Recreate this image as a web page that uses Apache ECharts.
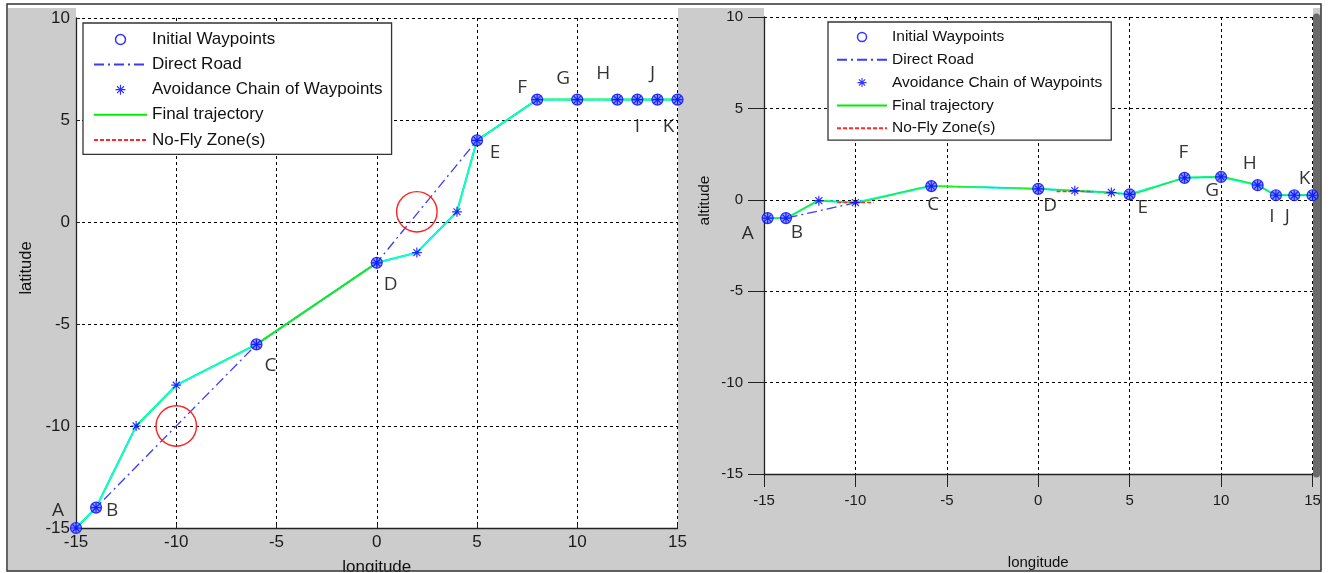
<!DOCTYPE html>
<html><head><meta charset="utf-8">
<script src="https://cdn.jsdelivr.net/npm/echarts@6/dist/echarts.min.js"></script>
<style>html,body{margin:0;padding:0;background:#fff}#c{width:1331px;height:573px}</style>
</head><body><div id="c"></div>
<script>
// ---------------- data ----------------
const waypointNames = ['A','B','C','D','E','F','G','H','I','J','K'];
const waypointLon = [-15,-14,-6,0,5,8,10,12,13,14,15];
const waypointLat = [-15,-14,-6,-2,4,6,6,6,6,6,6];
const waypointAltLon = [-14.8,-13.8,-5.85,0,5,8,10,12,13,14,15];
const waypointAlt = [-1,-1,0.75,0.6,0.3,1.2,1.25,0.8,0.25,0.25,0.25];
const avoidLon = [-12,-10,2,4];
const avoidLat = [-10,-8,-1.5,0.5];
const avoidAlt = [-0.05,-0.15,0.5,0.4];
const zoneLon = [-10,2];
const zoneLat = [-10,0.5];
const zoneAlt = [-0.15,0.45];
const zoneRadius = [1,1];
const lonTicks = [-15,-10,-5,0,5,10,15];
const latTicks = [-15,-10,-5,0,5,10];
const legendNames = ['Initial Waypoints','Direct Road','Avoidance Chain of Waypoints','Final trajectory','No-Fly Zone(s)'];

// ---------------- styles ----------------
const LEFT_LABEL_OFFSET = [[-18,-17],[16,3],[14,21],[14,22],[18,12],[-15,-12],[-14,-21],[-14,-26],[0,27],[-5,-26],[-9,27]];
const RIGHT_LABEL_OFFSET = [[-20,16],[11,15],[2,19],[12,17],[13,13],[-1,-25],[-9,14],[-8,-22],[-4,21],[-7,21],[-8,-17]];
const STAR = 'path://M-0.6,-5L0.6,-5L0.6,5L-0.6,5Z M-5,-0.6L5,-0.6L5,0.6L-5,0.6Z M-3.9,-3.05L-3.05,-3.9L3.9,3.05L3.05,3.9Z M3.05,-3.9L3.9,-3.05L-3.05,3.9L-3.9,3.05Z';
const FONT = 'Liberation Sans, Arial, sans-serif';
const LETTER_FONT = 'Open Sans, Noto Sans, sans-serif';

function pairs(xs, ys){ return xs.map((x,i)=>[x, ys[i]]); }
function chain(wx, wy, ax, ay){
  return pairs(wx, wy).concat(pairs(ax, ay)).sort((p,q)=>p[0]-q[0]);
}
const leftWaypoints = pairs(waypointLon, waypointLat);
const rightWaypoints = pairs(waypointAltLon, waypointAlt);
const leftChain = chain(waypointLon, waypointLat, avoidLon, avoidLat);
const rightChain = chain(waypointAltLon, waypointAlt, avoidLon, avoidAlt);
const leftCD = leftChain.filter(p => p[0] >= waypointLon[2] && p[0] <= waypointLon[3]);
const zoneSegments = [];
zoneLon.forEach((x,i)=>{ zoneSegments.push([x-zoneRadius[i], zoneAlt[i]], [x+zoneRadius[i], zoneAlt[i]], ['-','-']); });

function labelled(points, offsets){
  return points.map((p,i)=>({value:p, name:waypointNames[i], label:{offset:offsets[i]}}));
}
function legendData(){
  return legendNames.map(n => {
    if (n === 'Initial Waypoints') return {name:n, icon:'circle', itemStyle:{color:'#ffffff', borderColor:'#0000ff', borderWidth:1.5}};
    if (n === 'Avoidance Chain of Waypoints') return n;
    return {name:n, itemStyle:{opacity:0}};
  });
}

const gridLine = {show:true, lineStyle:{color:'#000', type:[3,3], width:1}};
function xAxis(gi, o){
  return Object.assign({type:'value', gridIndex:gi, min:lonTicks[0], max:lonTicks[lonTicks.length-1], interval:5,
    nameLocation:'middle', name:'longitude',
    axisLine:{show:true, onZero:false, lineStyle:{color:'#222', width:1.3}},
    splitLine:gridLine}, o);
}
function yAxis(gi, o){
  return Object.assign({type:'value', gridIndex:gi, min:latTicks[0], max:latTicks[latTicks.length-1], interval:5,
    nameLocation:'middle',
    axisLine:{show:true, onZero:false, lineStyle:{color:'#222', width:1.3}},
    splitLine:gridLine}, o);
}

const option = {
  animation:false,
  backgroundColor:'#ffffff',
  textStyle:{fontFamily:FONT},
  graphic:[
    {type:'rect', z:-100, shape:{x:8,y:8,width:1313,height:563}, style:{fill:'#cccccc'}},
    {type:'rect', z:-99, shape:{x:76,y:8,width:602,height:520}, style:{fill:'#ffffff'}},
    {type:'rect', z:-99, shape:{x:764,y:8,width:549,height:466}, style:{fill:'#ffffff'}},
    {type:'rect', z:100, shape:{x:0,y:572,width:1331,height:2}, style:{fill:'#ffffff'}},
    {type:'rect', z:101, shape:{x:7,y:4,width:1314,height:567}, style:{fill:'none', stroke:'#333', lineWidth:1.5}}
  ],
  grid:[
    {left:76, top:18, width:601.5, height:510, outerBoundsMode:'none', containLabel:false},
    {left:764, top:17, width:548.5, height:457, outerBoundsMode:'none', containLabel:false}
  ],
  legend:[
    {data:legendData(),
     orient:'vertical', left:83, top:23, padding:[8,9,6,10], itemWidth:53, itemHeight:10, itemGap:8.1,
     backgroundColor:'#ffffff', borderColor:'#333', borderWidth:1.3, borderRadius:0, selectedMode:false,
     textStyle:{fontSize:17, color:'#111', fontFamily:FONT}},
    {data:legendData(),
     orient:'vertical', left:828, top:22, padding:[7,9,4,8], itemWidth:50, itemHeight:9, itemGap:6.8,
     backgroundColor:'#ffffff', borderColor:'#333', borderWidth:1.3, borderRadius:0, selectedMode:false,
     textStyle:{fontSize:15.5, color:'#111', fontFamily:FONT}}
  ],
  xAxis:[
    xAxis(0, {nameGap:31, nameTextStyle:{fontSize:17, color:'#111'},
      axisTick:{show:true, inside:true, length:4, lineStyle:{color:'#222'}},
      axisLabel:{margin:6, fontSize:17, color:'#1a1a1a'}}),
    xAxis(1, {nameGap:81, nameTextStyle:{fontSize:15, color:'#111'},
      axisTick:{show:true, inside:false, length:13, lineStyle:{color:'#222'}},
      axisLabel:{margin:19, fontSize:15, color:'#1a1a1a'}})
  ],
  yAxis:[
    yAxis(0, {name:'latitude', nameGap:41, nameTextStyle:{fontSize:16.5, color:'#111', padding:[0,0,0,10]},
      axisTick:{show:true, inside:true, length:4, lineStyle:{color:'#222'}},
      axisLabel:{margin:6, fontSize:17, color:'#1a1a1a'}}),
    yAxis(1, {name:'altitude', nameGap:51, nameTextStyle:{fontSize:15.5, color:'#111', padding:[0,0,0,90]},
      axisTick:{show:true, inside:false, length:16, lineStyle:{color:'#222'}},
      axisLabel:{margin:21, fontSize:15, color:'#1a1a1a'}}),
    yAxis(1, {position:'right', offset:4, name:'', splitLine:{show:false}, axisTick:{show:false}, axisLabel:{show:false},
      axisLine:{show:true, onZero:false, lineStyle:{color:'#6a6a6a', width:7, type:[1.5,1.5]}}})
  ],
  series:[
    {name:'No-Fly Zone(s)', type:'line', xAxisIndex:1, yAxisIndex:1, data:zoneSegments, symbol:'none', connectNulls:false,
      lineStyle:{color:'#ff2a2a', width:1.5, type:[4,2]}, z:5},
    {name:'Direct Road', type:'line', xAxisIndex:0, yAxisIndex:0, data:leftWaypoints, symbol:'none',
      lineStyle:{color:'#3b3bff', width:1.3, type:[10,4,2,4]}, z:2},
    {name:'Direct Road', type:'line', xAxisIndex:1, yAxisIndex:1, data:rightWaypoints, symbol:'none',
      lineStyle:{color:'#3b3bff', width:1.3, type:[10,4,2,4]}, z:2},
    {name:'Final trajectory', type:'line', xAxisIndex:0, yAxisIndex:0, data:leftChain, symbol:'none',
      lineStyle:{color:'#00ee00', width:2}, z:3},
    {name:'chain-left', type:'line', xAxisIndex:0, yAxisIndex:0, data:leftChain, symbol:'none',
      lineStyle:{color:'#00ffff', width:1.6}, z:4},
    {name:'final-left-cd', type:'line', xAxisIndex:0, yAxisIndex:0, data:leftCD, symbol:'none',
      lineStyle:{color:'#22dd22', width:1.4}, z:4},
    {name:'chain-right', type:'line', xAxisIndex:1, yAxisIndex:1, data:rightChain, symbol:'none',
      lineStyle:{color:'#00ffff', width:2}, z:4},
    {name:'Final trajectory', type:'line', xAxisIndex:1, yAxisIndex:1, data:rightChain, symbol:'none', smooth:0.15,
      lineStyle:{color:'#22ee22', width:1.4}, z:4},
    {name:'nfz-circles', type:'custom', xAxisIndex:0, yAxisIndex:0,
      data:zoneLon.map((x,i)=>[x, zoneLat[i], zoneRadius[i]]),
      encode:{x:0, y:1},
      renderItem:function(params, api){
        const c = api.coord([api.value(0), api.value(1)]);
        const s = api.size([api.value(2), api.value(2)]);
        return {type:'circle', shape:{cx:c[0], cy:c[1], r:(s[0]+s[1])/2}, style:{fill:'none', stroke:'#ff2020', lineWidth:1.4}};
      }, z:5},
    {name:'Initial Waypoints', type:'scatter', xAxisIndex:0, yAxisIndex:0, data:labelled(leftWaypoints, LEFT_LABEL_OFFSET),
      symbol:'circle', symbolSize:11, itemStyle:{color:'#6a84ff', borderColor:'#0000ff', borderWidth:1.2},
      label:{show:true, position:'inside', formatter:'{b}', fontFamily:LETTER_FONT, fontSize:19, color:'#000'}, z:6},
    {name:'Initial Waypoints', type:'scatter', xAxisIndex:1, yAxisIndex:1, data:labelled(rightWaypoints, RIGHT_LABEL_OFFSET),
      symbol:'circle', symbolSize:11, itemStyle:{color:'#6a84ff', borderColor:'#0000ff', borderWidth:1.2},
      label:{show:true, position:'inside', formatter:'{b}', fontFamily:LETTER_FONT, fontSize:19, color:'#000'}, z:6},
    {name:'Avoidance Chain of Waypoints', type:'scatter', xAxisIndex:0, yAxisIndex:0, data:leftChain,
      symbol:STAR, symbolSize:10, symbolKeepAspect:true, itemStyle:{color:'#0000ff'}, z:7},
    {name:'Avoidance Chain of Waypoints', type:'scatter', xAxisIndex:1, yAxisIndex:1, data:rightChain,
      symbol:STAR, symbolSize:10, symbolKeepAspect:true, itemStyle:{color:'#0000ff'}, z:7}
  ]
};
const chart = echarts.init(document.getElementById('c'), null, {renderer:'canvas'});
chart.setOption(option);
</script></body></html>
